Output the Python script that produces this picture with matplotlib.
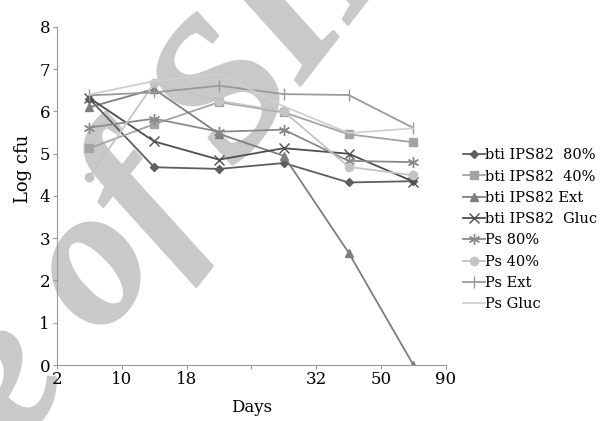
import matplotlib
matplotlib.use('Agg')
from matplotlib import pyplot as plt
import matplotlib.patheffects as pe
import numpy as np

matplotlib.rcParams['font.family'] = 'DejaVu Serif'
matplotlib.rcParams['font.size'] = 11

#%% Data
tick_labels = ['2', '10', '18', '', '32', '50', '90']
series_names = ['bti IPS82  80%', 'bti IPS82  40%', 'bti IPS82 Ext', 'bti IPS82  Gluc',
                'Ps 80%', 'Ps 40%', 'Ps Ext', 'Ps Gluc']

bti_80 = [6.30, 4.68, 4.64, 4.78, 4.32, 4.35]
bti_40 = [5.13, 5.70, 6.22, 5.98, 5.46, 5.27]
bti_ext = [6.10, 6.53, 5.47, 4.95, 2.66, 0.0]
bti_gluc = [6.32, 5.29, 4.86, 5.13, 5.00, 4.34]
ps_80 = [5.62, 5.83, 5.52, 5.57, 4.83, 4.80]
ps_40 = [4.45, 6.67, 6.25, 6.00, 4.69, 4.49]
ps_ext = [6.38, 6.45, 6.61, 6.41, 6.39, 5.61]
ps_gluc = [6.40, 6.72, 6.89, 6.12, 5.49, 5.60]

values = [bti_80, bti_40, bti_ext, bti_gluc, ps_80, ps_40, ps_ext, ps_gluc]

#%% Styles
colors = ['#5e5e5e', '#a4a4a4', '#7e7e7e', '#4e4e4e', '#8a8a8a', '#c4c4c4', '#9a9a9a', '#cfcfcf']
markers = ['D', 's', '^', 'x', (6, 2, 0), 'o', '|', None]
msizes = [4, 6, 6, 7, 8, 6, 8, 0]

#%% Plot
fig = plt.figure(figsize=(6.09, 4.21), dpi=100)
ax = fig.add_axes([0.0936, 0.133, 0.6384, 0.803])

x = np.arange(len(bti_80)) + 0.5
for v, name, c, m, ms in zip(values, series_names, colors, markers, msizes):
    ax.plot(x, v, color=c, marker=m, markersize=ms, linewidth=1.3, label=name,
            markeredgecolor=c, markerfacecolor=c)

# watermark, behind the chart
fig.text(0.03, -0.06, 'e of SID', fontsize=142, fontweight='bold', fontstyle='italic',
         color='#c9c9c9', rotation=52, rotation_mode='anchor', ha='left', va='baseline',
         family='Liberation Serif', zorder=-1,
         path_effects=[pe.withStroke(linewidth=2, foreground='#c9c9c9')])

ax.set_xlim(0, 6)
ax.set_ylim(0, 8)
ax.set_xticks(np.arange(7))
ax.set_xticklabels(tick_labels)
ax.set_yticks(np.arange(9))
for s in ['top', 'right']:
    ax.spines[s].set_visible(False)
for s in ['left', 'bottom']:
    ax.spines[s].set_color('#999999')
ax.tick_params(axis='y', length=3, color='#999999', pad=2, labelsize=12)
ax.tick_params(axis='x', length=3, color='#999999', pad=1, labelsize=12)
ax.set_xlabel('Days', fontsize=12, labelpad=8)
ax.set_ylabel('Log cfu', fontsize=13, labelpad=4)
ax.yaxis.set_label_coords(-0.065, 0.58)
ax.patch.set_alpha(0)

ax.legend(loc='center left', bbox_to_anchor=(1.03, 0.40), frameon=False, handlelength=1.5,
          handletextpad=0.0, labelspacing=0.5, borderaxespad=0, fontsize=10.5)

fig.savefig('out.png', dpi=100)
